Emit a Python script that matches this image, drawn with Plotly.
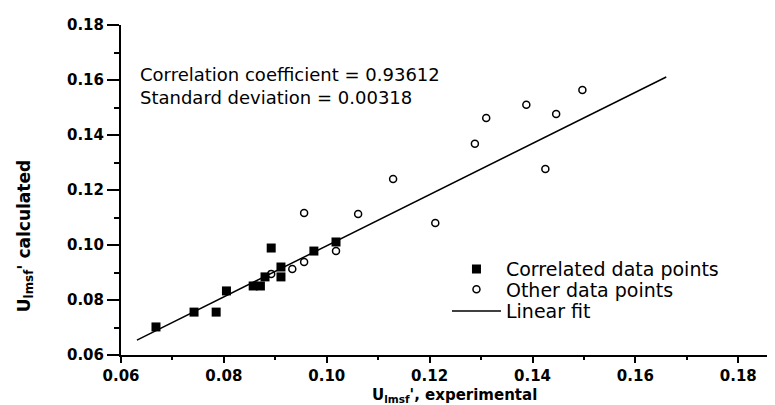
import plotly.graph_objects as go

# Correlated data points (filled squares)
corr_x = [0.0668, 0.0742, 0.0785, 0.0805, 0.0857, 0.0871, 0.0880, 0.0892, 0.0911, 0.0911, 0.0975, 0.1018]
corr_y = [0.0702, 0.0756, 0.0756, 0.0833, 0.0851, 0.0851, 0.0884, 0.0989, 0.0920, 0.0884, 0.0978, 0.1011]

# Other data points (open circles)
other_x = [0.0892, 0.0933, 0.0956, 0.0956, 0.1018, 0.1061, 0.1129, 0.1211, 0.1288, 0.1310, 0.1388, 0.1425, 0.1446, 0.1497]
other_y = [0.0895, 0.0913, 0.0938, 0.1116, 0.0978, 0.1113, 0.1240, 0.1080, 0.1368, 0.1462, 0.1510, 0.1276, 0.1476, 0.1564]

# Linear fit end points
fit_x = [0.0631, 0.1660]
fit_y = [0.0654, 0.1611]

x_range = [0.06, 0.1887]
y_range = [0.06, 0.18]

ann_lines = ["Correlation coefficient = 0.93612", "Standard deviation = 0.00318"]
x_title = "U<sub>lmsf</sub>', experimental"
y_title = "U<sub>lmsf</sub>' calculated"

FONT = "DejaVu Sans"

fig = go.Figure()
fig.add_trace(go.Scatter(
    x=corr_x, y=corr_y, mode="markers", name="Correlated data points",
    marker=dict(symbol="square", size=9, color="black"), legend="legend"))
fig.add_trace(go.Scatter(
    x=other_x, y=other_y, mode="markers", name="Other data points",
    marker=dict(symbol="circle-open", size=7, color="black", line=dict(width=1.5)),
    legend="legend2"))
fig.add_trace(go.Scatter(
    x=fit_x, y=fit_y, mode="lines", name="Linear fit",
    line=dict(color="black", width=1.5), legend="legend3"))

leg_common = dict(xref="paper", yref="paper", xanchor="left", yanchor="middle",
                  bgcolor="rgba(0,0,0,0)", borderwidth=0, itemwidth=49,
                  font=dict(family=FONT, size=19, color="black"))
fig.update_layout(
    width=775, height=405,
    margin=dict(l=113, r=0, t=17, b=58),
    paper_bgcolor="white", plot_bgcolor="white",
    showlegend=True,
    legend=dict(x=0.4924, y=0.26, **leg_common),
    legend2=dict(x=0.4924, y=0.199, **leg_common),
    legend3=dict(x=0.4924, y=0.133, **leg_common),
)

axis_common = dict(showgrid=False, zeroline=False, showline=True, linecolor="black",
                   linewidth=2, ticks="outside", tickcolor="black", tickwidth=2,
                   tickformat=".2f",
                   tickfont=dict(family=FONT, size=15, color="black", weight="bold"))
fig.update_xaxes(range=x_range, tick0=0.06, dtick=0.02, ticklen=6,
                 minor=dict(dtick=0.01, tick0=0.06, ticks="outside", ticklen=3,
                            tickwidth=2, tickcolor="black"),
                 **axis_common)
fig.update_yaxes(range=y_range, tick0=0.06, dtick=0.02, ticklen=12,
                 minor=dict(dtick=0.01, tick0=0.06, ticks="outside", ticklen=5,
                            tickwidth=2, tickcolor="black"),
                 **axis_common)

fig.add_annotation(text="<br>".join(ann_lines), xref="paper", yref="paper",
                   x=0.0257, y=0.814, xanchor="left", yanchor="middle", align="left",
                   showarrow=False, font=dict(family=FONT, size=18, color="black"))

fig.add_annotation(text=x_title, xref="paper", yref="paper", x=0.5045, y=-0.124,
                   xanchor="center", yanchor="middle", showarrow=False,
                   font=dict(family=FONT, size=15, color="black", weight="bold"))
fig.add_annotation(text=y_title, xref="paper", yref="paper", x=-0.145, y=0.36,
                   xanchor="center", yanchor="middle", showarrow=False, textangle=-90,
                   font=dict(family=FONT, size=17, color="black", weight="bold"))

fig.write_html("out.html")
